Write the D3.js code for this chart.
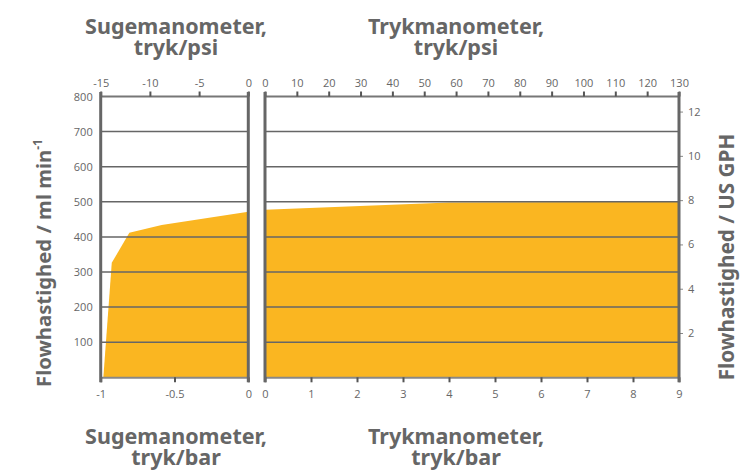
<!DOCTYPE html>
<html><head><meta charset="utf-8">
<script src="https://cdn.jsdelivr.net/npm/d3@7"></script>
<style>
body{margin:0;background:#fff;}
svg{display:block;font-family:"Open Sans",sans-serif;}
</style></head><body>
<svg id="c" width="745" height="474"></svg>
<script>
// ---- data ----
const suctionPsiTicks = [-15, -10, -5, 0];
const suctionBarTicks = [-1, -0.5, 0];
const pressurePsiTicks = [0,10,20,30,40,50,60,70,80,90,100,110,120,130];
const pressureBarTicks = [0,1,2,3,4,5,6,7,8,9];
const flowTicks = [100,200,300,400,500,600,700,800];
const gphTicks = [2,4,6,8,10,12];
const suctionBar = [-0.982, -0.925, -0.806, -0.587, 0];
const suctionFlow = [0, 326, 412, 434, 472];
const pressureBar1 = [0, 4];
const pressureFlow1 = [477, 498];
const pressureBar2 = [4, 9];
const pressureFlow2 = [498, 500];

const svg = d3.select("#c");
const grey = "#666";
const orange = "#FAB621";
const titleFont = '"Noto Sans","Open Sans",sans-serif';
const yTop = 96.5, yBot = 377.3;
const xL0 = 100.7, xL1 = 248.3, xR0 = 265, xR1 = 679;

const y = d3.scaleLinear().domain([0, 800]).range([yBot, yTop]);
const yG = d3.scaleLinear().domain([0, 800*60/3785.41]).range([yBot, yTop]);
const xLbar = d3.scaleLinear().domain([-1, 0]).range([xL0, xL1]);
const xLpsi = d3.scaleLinear().domain([-15, 0]).range([xL0, xL1]);
const xRbar = d3.scaleLinear().domain([0, 9]).range([xR0, xR1]);
const xRpsi = d3.scaleLinear().domain([0, 130]).range([xR0, xR1]);

// areas
function drawArea(xs, ys, xsc){
  const pts = xs.map((d,i)=>[d, ys[i]]);
  const area = d3.area().x(d=>xsc(d[0])).y0(y(0)).y1(d=>y(d[1]));
  svg.append("path").datum(pts).attr("d", area).attr("fill", orange);
}
drawArea(suctionBar, suctionFlow, xLbar);
drawArea(pressureBar1, pressureFlow1, xRbar);
drawArea(pressureBar2, pressureFlow2, xRbar);

// gridlines
flowTicks.forEach(t=>{
  const col = t===800 ? "#777" : grey;
  [[xL0,xL1],[xR0,xR1]].forEach(r=>{
    svg.append("line").attr("x1", r[0]).attr("x2", r[1]).attr("y1", y(t)).attr("y2", y(t))
      .attr("stroke", col).attr("stroke-width", t===800?2:1.5);
  });
});
// bottom lines
[[xL0,xL1],[xR0,xR1]].forEach(r=>{
  svg.append("line").attr("x1", r[0]).attr("x2", r[1]).attr("y1", yBot+0.5).attr("y2", yBot+0.5)
    .attr("stroke", "#888").attr("stroke-width", 2);
});

function styleAxis(g){
  g.select(".domain").remove();
  g.selectAll(".tick line").attr("stroke", "#555").attr("stroke-width", 2);
  g.selectAll(".tick text").attr("fill", grey).attr("font-size", 11)
   .attr("font-family", '"Open Sans",sans-serif');
}
const fmt = d=>String(d);
// top axes
svg.append("g").attr("transform", `translate(0,${yTop})`)
  .call(d3.axisTop(xLpsi).tickValues(suctionPsiTicks).tickSize(5).tickPadding(5).tickFormat(fmt))
  .call(styleAxis);
svg.append("g").attr("transform", `translate(0,${yTop})`)
  .call(d3.axisTop(xRpsi).tickValues(pressurePsiTicks).tickSize(5).tickPadding(5).tickFormat(fmt))
  .call(styleAxis);
// bottom axes
svg.append("g").attr("transform", `translate(0,${yBot})`)
  .call(d3.axisBottom(xLbar).tickValues(suctionBarTicks).tickSize(5).tickPadding(8).tickFormat(fmt))
  .call(styleAxis);
svg.append("g").attr("transform", `translate(0,${yBot})`)
  .call(d3.axisBottom(xRbar).tickValues(pressureBarTicks).tickSize(5).tickPadding(8).tickFormat(fmt))
  .call(styleAxis);
// left axis
svg.append("g").attr("transform", `translate(${xL0},0)`)
  .call(d3.axisLeft(y).tickValues(flowTicks).tickSize(0).tickPadding(8).tickFormat(fmt))
  .call(styleAxis);
// right axis
svg.append("g").attr("transform", `translate(${xR1},0)`)
  .call(d3.axisRight(yG).tickValues(gphTicks).tickSize(4).tickPadding(5).tickFormat(fmt))
  .call(g=>{styleAxis(g); g.selectAll(".tick line").attr("stroke-width",1).attr("stroke","#888");});

// vertical borders
[xL0, xL1, xR0, xR1].forEach(x=>{
  svg.append("line").attr("x1", x).attr("x2", x).attr("y1", yTop-4.5).attr("y2", yBot+5)
    .attr("stroke", grey).attr("stroke-width", 3);
});

// titles
function title(text, x, y0){
  svg.append("text").attr("x", x).attr("y", y0).attr("text-anchor","middle")
    .attr("font-family", titleFont)
    .attr("font-size", 21.5).attr("font-weight", "bold").attr("fill", grey).text(text);
}
title("Sugemanometer,", 176, 34);
title("tryk/psi", 176, 55);
title("Trykmanometer,", 456, 34);
title("tryk/psi", 456, 55);
title("Sugemanometer,", 176, 444);
title("tryk/bar", 176, 465);
title("Trykmanometer,", 456, 444);
title("tryk/bar", 456, 465);

// y titles
const lt = svg.append("text").attr("transform", "translate(51,263) rotate(-90)")
  .attr("font-family", titleFont)
  .attr("text-anchor","middle").attr("font-size",20.3).attr("font-weight","bold").attr("fill",grey);
lt.append("tspan").text("Flowhastighed / ml min");
lt.append("tspan").attr("font-size",12).attr("dy",-9).text("-1");
svg.append("text").attr("transform", "translate(734,257) rotate(-90)")
  .attr("font-family", titleFont)
  .attr("text-anchor","middle").attr("font-size",20.7).attr("font-weight","bold").attr("fill",grey)
  .text("Flowhastighed / US GPH");
</script>
</body></html>
